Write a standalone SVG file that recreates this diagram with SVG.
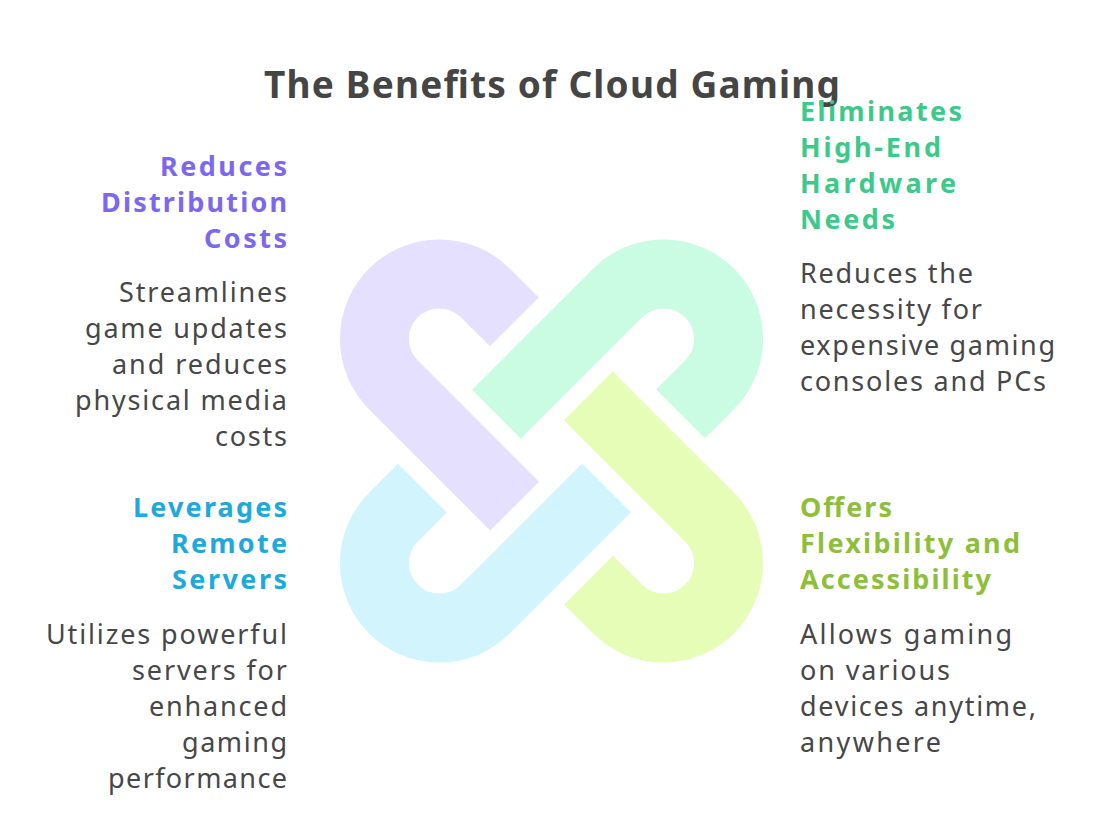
<svg xmlns="http://www.w3.org/2000/svg" width="1103" height="831" viewBox="0 0 1103 831">
<defs>
<style>
.band{fill:none;stroke-width:69;stroke-linecap:butt;stroke-linejoin:miter}
.title{font-family:"Noto Sans","Liberation Sans",sans-serif;font-weight:700;font-size:37px;fill:#454545}
.head{font-family:"Noto Sans","Liberation Sans",sans-serif;font-weight:700;font-size:27px}
.body{font-family:"Noto Sans","Liberation Sans",sans-serif;font-size:27px;fill:#474747}
.l{text-anchor:end}
.purple{fill:#7B68EE}
.green{fill:#3CC98A}
.blue{fill:#1FA8DC}
.lime{fill:#8EBF3A}
</style>
<path id="link" d="M514.38,321.96 L484.96,292.54 A65,65 0 0 0 393.04,384.46 L514.66,506.08"/>
</defs>
<rect width="1103" height="831" fill="#ffffff"/>
<text class="title" x="264" y="98" textLength="576" lengthAdjust="spacing">The Benefits of Cloud Gaming</text>
<g id="graphic">
<use href="#link" class="band" stroke="#E6E0FF"/>
<use href="#link" class="band" stroke="#C9FCE3" transform="rotate(90 551.5 451)"/>
<use href="#link" class="band" stroke="#E6FDB8" transform="rotate(180 551.5 451)"/>
<use href="#link" class="band" stroke="#D2F4FD" transform="rotate(270 551.5 451)"/>
</g>
<g id="node-distribution">
<text class="head purple l" x="287" y="176" textLength="127" lengthAdjust="spacing">Reduces</text>
<text class="head purple l" x="287" y="212" textLength="186" lengthAdjust="spacing">Distribution</text>
<text class="head purple l" x="287" y="248" textLength="83" lengthAdjust="spacing">Costs</text>
<text class="body l" x="287" y="302" textLength="168" lengthAdjust="spacing">Streamlines</text>
<text class="body l" x="287" y="338" textLength="202" lengthAdjust="spacing">game updates</text>
<text class="body l" x="287" y="374" textLength="175" lengthAdjust="spacing">and reduces</text>
<text class="body l" x="287" y="410" textLength="212" lengthAdjust="spacing">physical media</text>
<text class="body l" x="287" y="446" textLength="72" lengthAdjust="spacing">costs</text>
</g>
<g id="node-hardware">
<text class="head green" x="800" y="121" textLength="162" lengthAdjust="spacing">Eliminates</text>
<text class="head green" x="800" y="157" textLength="141" lengthAdjust="spacing">High-End</text>
<text class="head green" x="800" y="193" textLength="156" lengthAdjust="spacing">Hardware</text>
<text class="head green" x="800" y="229" textLength="95" lengthAdjust="spacing">Needs</text>
<text class="body" x="800" y="283" textLength="173" lengthAdjust="spacing">Reduces the</text>
<text class="body" x="800" y="319" textLength="182" lengthAdjust="spacing">necessity for</text>
<text class="body" x="800" y="355" textLength="255" lengthAdjust="spacing">expensive gaming</text>
<text class="body" x="800" y="391" textLength="246" lengthAdjust="spacing">consoles and PCs</text>
</g>
<g id="node-servers">
<text class="head blue l" x="287" y="517" textLength="154" lengthAdjust="spacing">Leverages</text>
<text class="head blue l" x="287" y="553" textLength="116" lengthAdjust="spacing">Remote</text>
<text class="head blue l" x="287" y="589" textLength="115" lengthAdjust="spacing">Servers</text>
<text class="body l" x="287" y="644" textLength="241" lengthAdjust="spacing">Utilizes powerful</text>
<text class="body l" x="287" y="680" textLength="155" lengthAdjust="spacing">servers for</text>
<text class="body l" x="287" y="716" textLength="138" lengthAdjust="spacing">enhanced</text>
<text class="body l" x="287" y="752" textLength="105" lengthAdjust="spacing">gaming</text>
<text class="body l" x="287" y="788" textLength="179" lengthAdjust="spacing">performance</text>
</g>
<g id="node-flexibility">
<text class="head lime" x="800" y="517" textLength="92" lengthAdjust="spacing">Offers</text>
<text class="head lime" x="800" y="553" textLength="220" lengthAdjust="spacing">Flexibility and</text>
<text class="head lime" x="800" y="589" textLength="191" lengthAdjust="spacing">Accessibility</text>
<text class="body" x="800" y="644" textLength="212" lengthAdjust="spacing">Allows gaming</text>
<text class="body" x="800" y="680" textLength="150" lengthAdjust="spacing">on various</text>
<text class="body" x="800" y="716" textLength="236" lengthAdjust="spacing">devices anytime,</text>
<text class="body" x="800" y="752" textLength="141" lengthAdjust="spacing">anywhere</text>
</g>
</svg>
